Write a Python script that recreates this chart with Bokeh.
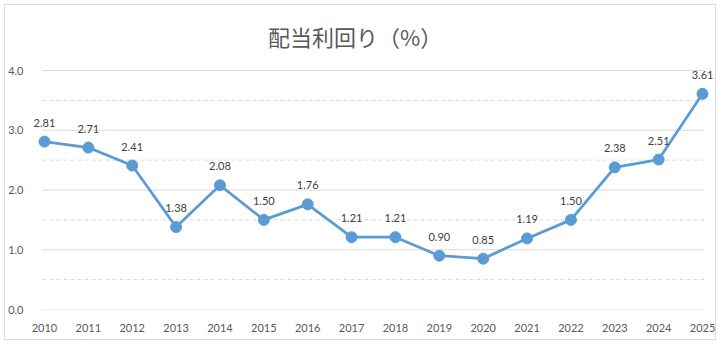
from bokeh.plotting import figure
from bokeh.models import Range1d, FixedTicker, ColumnDataSource
from bokeh.core.properties import value
from bokeh.embed import file_html
from bokeh.resources import INLINE

years = list(range(2010, 2026))
yields = [2.81, 2.71, 2.41, 1.38, 2.08, 1.50, 1.76, 1.21, 1.21, 0.90, 0.85, 1.19, 1.50, 2.38, 2.51, 3.61]
major_ticks = [0, 1, 2, 3, 4]
minor_lines = [0.5, 1.5, 2.5, 3.5]
title_text = "配当利回り（%）"

# geometry (pixels)
canvas_x0, canvas_y0 = 5, 5
frame_left, frame_right, frame_top, frame_bottom = 32, 716, 10, 309
px_per_year = (702 - 43) / 15
px_per_unit = (309 - 70) / 4

x_start = years[0] - (43 - frame_left) / px_per_year
x_end = years[-1] + (frame_right - 702) / px_per_year
y_end = (frame_bottom - frame_top) / px_per_unit

W, H = 712, 336
p = figure(width=W, height=H, output_backend="svg", toolbar_location=None,
           x_range=Range1d(x_start, x_end), y_range=Range1d(0, y_end),
           min_border_left=frame_left - canvas_x0, min_border_right=canvas_x0 + W - frame_right,
           min_border_top=frame_top - canvas_y0, min_border_bottom=canvas_y0 + H - frame_bottom)
p.margin = (4, 0, 0, 4)
p.styles = {"border": "1px solid #D9D9D9"}
p.outline_line_color = None
p.background_fill_color = "white"
p.border_fill_color = "white"
p.xgrid.visible = False
p.ygrid.visible = False

gx0 = years[0] - 2 / px_per_year
gx1 = years[-1] + 2 / px_per_year
p.segment(x0=[gx0] * len(minor_lines), x1=[gx1] * len(minor_lines), y0=minor_lines, y1=minor_lines,
          line_color="#D9D9D9", line_width=1, line_dash="4 3")
p.segment(x0=[gx0] * len(major_ticks), x1=[gx1] * len(major_ticks), y0=major_ticks, y1=major_ticks,
          line_color="#D9D9D9", line_width=1)

src = ColumnDataSource(dict(x=years, y=yields, lab=["%.2f" % v for v in yields]))
p.line("x", "y", source=src, line_color="#5B9BD5", line_width=2.75, line_join="round")
p.scatter("x", "y", source=src, size=11, fill_color="#5B9BD5", line_color="#5B9BD5")
p.text("x", "y", text="lab", source=src, text_align="center", text_baseline="middle",
       y_offset=-19, text_font=value("Lato"), text_font_size="11px", text_color="#404040")

tx = x_start + (354 - frame_left) / px_per_year
ty = (frame_bottom - 35) / px_per_unit
p.text(x=[tx], y=[ty], text=[title_text], text_align="center", text_baseline="middle",
       text_font=value("Noto Sans CJK JP"), text_font_size="22px", text_color="#595959")

for ax in (p.xaxis[0], p.yaxis[0]):
    ax.axis_line_color = None
    ax.major_tick_line_color = None
    ax.minor_tick_line_color = None
    ax.major_label_text_font = "Lato"
    ax.major_label_text_font_size = "11px"
    ax.major_label_text_color = "#595959"

p.xaxis.ticker = FixedTicker(ticks=years)
p.xaxis.major_label_overrides = {y: str(y) for y in years}
p.xaxis.major_label_standoff = 8
p.yaxis.ticker = FixedTicker(ticks=major_ticks)
p.yaxis.major_label_overrides = {t: "%.1f" % t for t in major_ticks}
p.yaxis.major_label_standoff = 4

open("out.html", "w").write(file_html(p, INLINE))
